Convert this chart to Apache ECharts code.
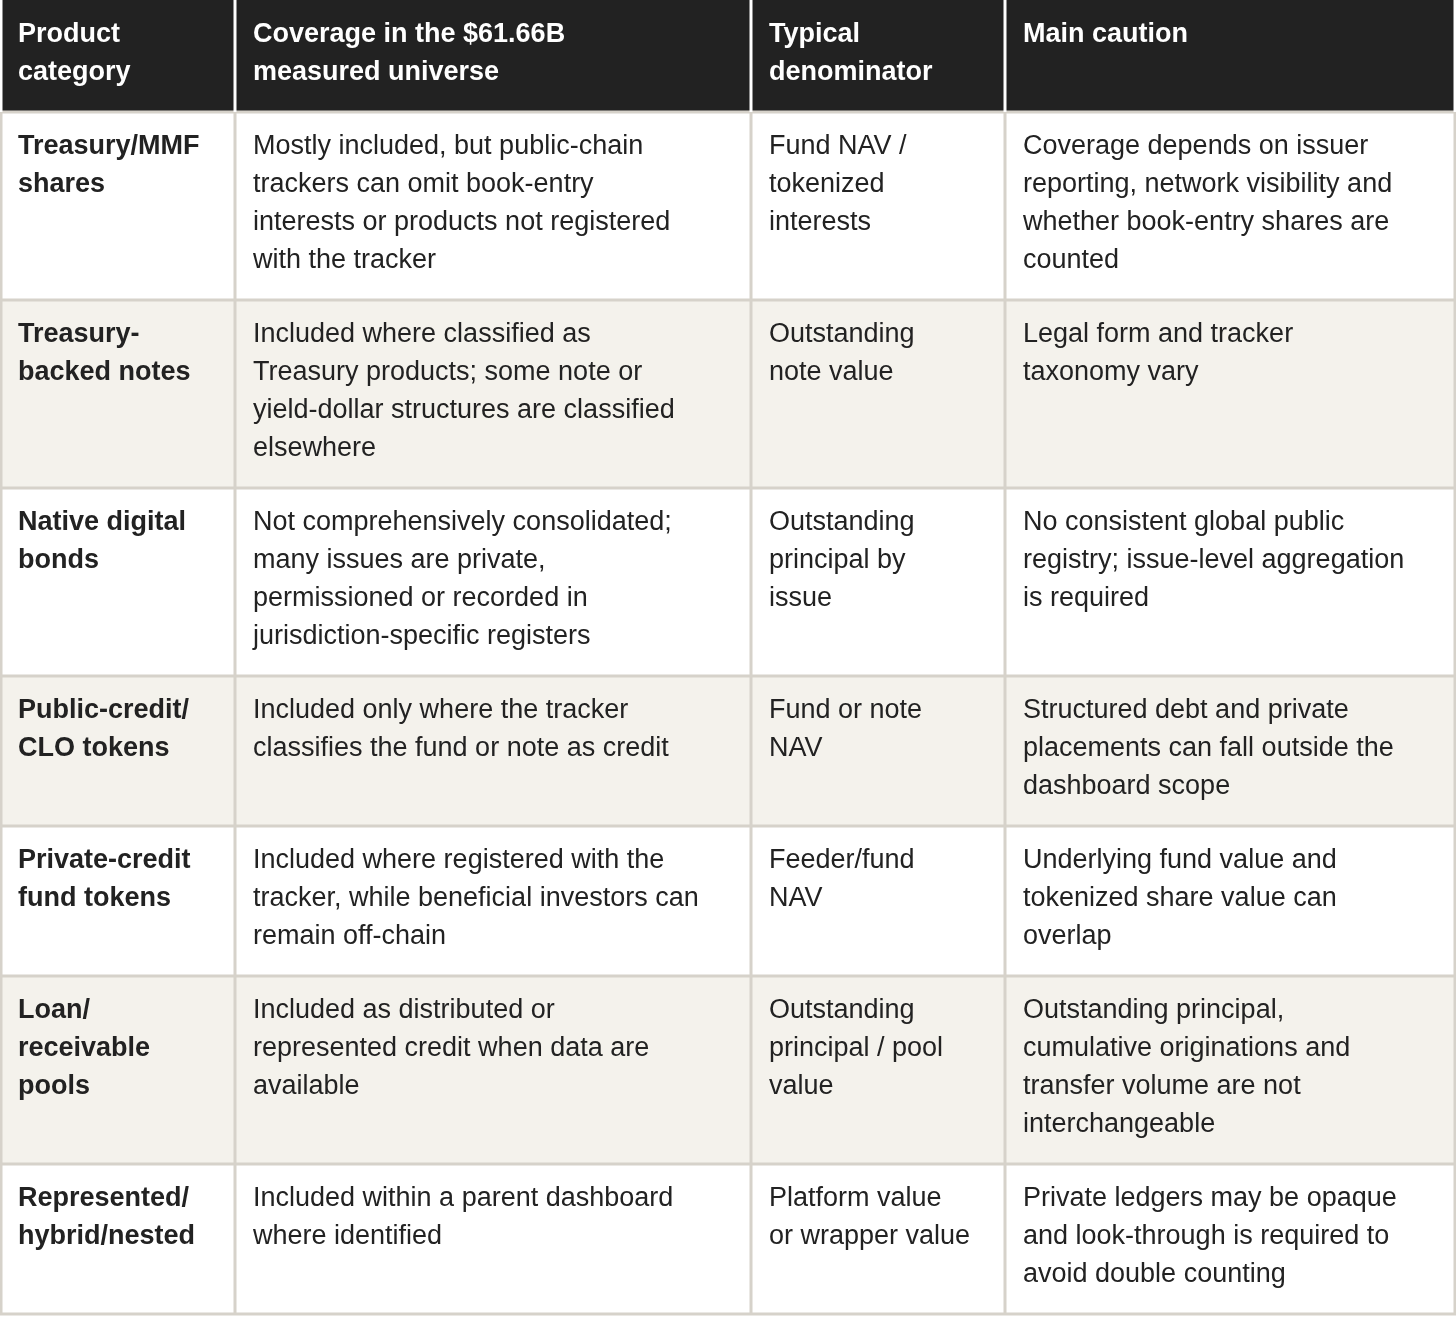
<!DOCTYPE html>
<html><head><meta charset="utf-8">
<script src="https://cdn.jsdelivr.net/npm/echarts@6/dist/echarts.min.js"></script>
<style>html,body{margin:0;padding:0;background:#fff}#c{width:1456px;height:1318px}</style>
</head><body><div id="c"></div>
<script>
const headers = ["Product\ncategory","Coverage in the $61.66B\nmeasured universe","Typical\ndenominator","Main caution"];
const categories = ["Treasury/MMF\nshares","Treasury-\nbacked notes","Native digital\nbonds","Public-credit/\nCLO tokens","Private-credit\nfund tokens","Loan/\nreceivable\npools","Represented/\nhybrid/nested"];
const coverage = [
"Mostly included, but public-chain\ntrackers can omit book-entry\ninterests or products not registered\nwith the tracker",
"Included where classified as\nTreasury products; some note or\nyield-dollar structures are classified\nelsewhere",
"Not comprehensively consolidated;\nmany issues are private,\npermissioned or recorded in\njurisdiction-specific registers",
"Included only where the tracker\nclassifies the fund or note as credit",
"Included where registered with the\ntracker, while beneficial investors can\nremain off-chain",
"Included as distributed or\nrepresented credit when data are\navailable",
"Included within a parent dashboard\nwhere identified"];
const denominators = ["Fund NAV /\ntokenized\ninterests","Outstanding\nnote value","Outstanding\nprincipal by\nissue","Fund or note\nNAV","Feeder/fund\nNAV","Outstanding\nprincipal / pool\nvalue","Platform value\nor wrapper value"];
const cautions = [
"Coverage depends on issuer\nreporting, network visibility and\nwhether book-entry shares are\ncounted",
"Legal form and tracker\ntaxonomy vary",
"No consistent global public\nregistry; issue-level aggregation\nis required",
"Structured debt and private\nplacements can fall outside the\ndashboard scope",
"Underlying fund value and\ntokenized share value can\noverlap",
"Outstanding principal,\ncumulative originations and\ntransfer volume are not\ninterchangeable",
"Private ledgers may be opaque\nand look-through is required to\navoid double counting"];

const colX = [0,235,751,1005,1456];
const rowY = [0,112,300,488,676,826,976,1164,1314];
const font = 'Liberation Sans, Arial, sans-serif';
const els = [];
// header
els.push({type:'rect',shape:{x:0,y:0,width:1456,height:112},style:{fill:'#222222'}});
headers.forEach((h,i)=>{
  els.push({type:'text',x:colX[i]+18,y:16,style:{text:h,fill:'#fff',font:'bold 27px '+font,lineHeight:38,verticalAlign:'top'}});
});
const rows = categories.map((c,i)=>[c,coverage[i],denominators[i],cautions[i]]);
rows.forEach((r,ri)=>{
  const y0=rowY[ri+1], y1=rowY[ri+2];
  els.push({type:'rect',shape:{x:0,y:y0,width:1456,height:y1-y0},style:{fill:ri%2?'#f4f2ec':'#ffffff'}});
  r.forEach((t,ci)=>{
    els.push({type:'text',x:colX[ci]+18,y:y0+16,style:{text:t,fill:'#222',font:(ci===0?'bold ':'')+'27px '+font,lineHeight:38,verticalAlign:'top'}});
  });
});
// grid lines
for(let i=1;i<rowY.length;i++){
  els.push({type:'line',shape:{x1:0,y1:rowY[i],x2:1456,y2:rowY[i]},style:{stroke:'#d6d2ca',lineWidth:3}});
}
for(let i=0;i<colX.length;i++){
  const x=Math.min(Math.max(colX[i],1),1455);
  els.push({type:'line',shape:{x1:x,y1:112,x2:x,y2:1314},style:{stroke:'#d6d2ca',lineWidth:3}});
  els.push({type:'line',shape:{x1:x,y1:0,x2:x,y2:112},style:{stroke:'#ffffff',lineWidth:3}});
}
const chart = echarts.init(document.getElementById('c'),null,{renderer:'canvas'});
chart.setOption({animation:false,graphic:{elements:els}});
</script></body></html>
